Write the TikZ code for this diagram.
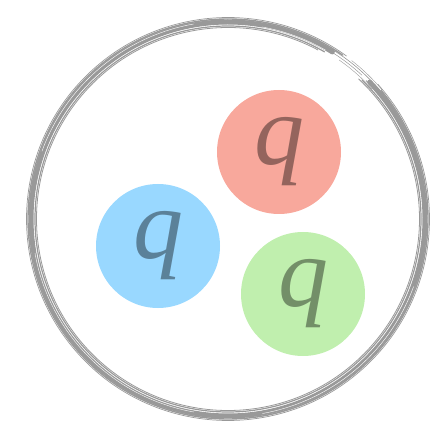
\documentclass[tikz,border=0pt]{standalone}
\usepackage{fontspec}
\setmainfont{Liberation Serif}
\definecolor{quarkred}{HTML}{F8A89C}
\definecolor{quarkblue}{HTML}{99D8FF}
\definecolor{quarkgreen}{HTML}{C0EFAE}
\definecolor{brushgray}{HTML}{999999}
\begin{document}
\begin{tikzpicture}[x=1pt,y=-1pt,
  quark/.style={circle, inner sep=0pt, minimum size=124pt, text=black, text opacity=0.4,
    font=\fontsize{100}{100}\selectfont\itshape},
  brush/.style={draw=brushgray, line cap=round}]
\useasboundingbox (0,0) rectangle (431,422);
% hadron bag, drawn as a rough brush ring (open near the top right)
\foreach \r/\w/\a/\b in {197/5/-44/302, 193/1.2/-46/300, 200/1.4/-40/305, 191.5/0.8/-47/298, 201.5/0.7/-42/306, 195.5/0.9/-45/301}
  \draw[brush, line width=\w pt] (228,219) ++(\a:\r) arc (\a:\b:\r);
% thin white streaks in the brush
\foreach \r/\a/\b in {196/100/170, 198/200/260, 195/280/300, 197.5/20/80}
  \draw[white, line width=0.4pt] (228,219) ++(\a:\r) arc (\a:\b:\r);
% sparse strands over the gap
\foreach \r/\w/\a/\b in {199/0.6/-58/-38, 194/0.4/-55/-42, 196.5/0.5/-60/-47, 201/0.4/-52/-40}
  \draw[brush, line width=\w pt] (228,219) ++(\a:\r) arc (\a:\b:\r);
% the three quarks
\node[quark, fill=quarkred] (qr) at (279,152) {q};
\node[quark, fill=quarkblue] (qb) at (158,246) {q};
\node[quark, fill=quarkgreen] (qg) at (303,294) {q};
\end{tikzpicture}
\end{document}
